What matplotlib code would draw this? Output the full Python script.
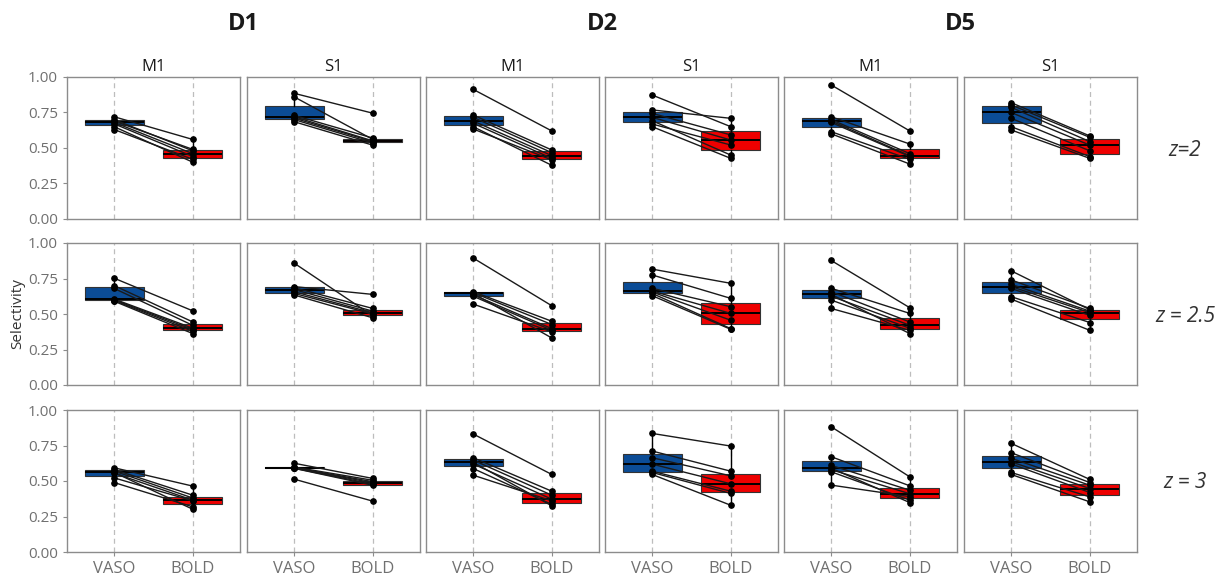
"""Paired VASO/BOLD selectivity boxplots per day, region and z threshold."""

import matplotlib
matplotlib.use("Agg")
import matplotlib.pyplot as plt

plt.rcParams["font.family"] = ["Open Sans", "DejaVu Sans"]

days = ["D1", "D2", "D5"]
regions = ["M1", "S1"]
z_labels = ["z=2", "z = 2.5", "z = 3"]
conditions = ["VASO", "BOLD"]
y_ticks = [0.0, 0.25, 0.5, 0.75, 1.0]

# z = 2
d1_m1_z2_vaso = [0.72, 0.70, 0.69, 0.68, 0.67, 0.65, 0.63]
d1_m1_z2_bold = [0.56, 0.48, 0.49, 0.46, 0.44, 0.40, 0.42]
d1_s1_z2_vaso = [0.885, 0.86, 0.73, 0.72, 0.71, 0.70, 0.685]
d1_s1_z2_bold = [0.745, 0.56, 0.57, 0.55, 0.545, 0.535, 0.52]
d2_m1_z2_vaso = [0.913, 0.732, 0.716, 0.69, 0.674, 0.65, 0.634]
d2_m1_z2_bold = [0.62, 0.486, 0.467, 0.446, 0.427, 0.378, 0.416]
d2_s1_z2_vaso = [0.873, 0.768, 0.744, 0.716, 0.692, 0.669, 0.65]
d2_s1_z2_bold = [0.65, 0.709, 0.592, 0.556, 0.45, 0.521, 0.427]
d5_m1_z2_vaso = [0.944, 0.72, 0.70, 0.69, 0.68, 0.615, 0.60]
d5_m1_z2_bold = [0.62, 0.528, 0.46, 0.445, 0.44, 0.42, 0.387]
d5_s1_z2_vaso = [0.819, 0.803, 0.786, 0.75, 0.709, 0.65, 0.627]
d5_s1_z2_bold = [0.585, 0.575, 0.545, 0.52, 0.48, 0.439, 0.427]

# z = 2.5
d1_m1_z25_vaso = [0.752, 0.70, 0.68, 0.605, 0.60, 0.595, 0.59]
d1_m1_z25_bold = [0.522, 0.444, 0.42, 0.40, 0.39, 0.378, 0.362]
d1_s1_z25_vaso = [0.858, 0.693, 0.685, 0.672, 0.657, 0.645, 0.634]
d1_s1_z25_bold = [0.487, 0.638, 0.539, 0.52, 0.508, 0.50, 0.473]
d2_m1_z25_vaso = [0.894, 0.657, 0.65, 0.645, 0.635, 0.625, 0.57]
d2_m1_z25_bold = [0.558, 0.449, 0.426, 0.331, 0.397, 0.385, 0.374]
d2_s1_z25_vaso = [0.816, 0.775, 0.681, 0.662, 0.655, 0.645, 0.629]
d2_s1_z25_bold = [0.716, 0.61, 0.551, 0.504, 0.456, 0.397, 0.392]
d5_m1_z25_vaso = [0.877, 0.681, 0.657, 0.638, 0.625, 0.598, 0.539]
d5_m1_z25_bold = [0.544, 0.504, 0.444, 0.362, 0.421, 0.40, 0.385]
d5_s1_z25_vaso = [0.804, 0.74, 0.709, 0.693, 0.68, 0.622, 0.605]
d5_s1_z25_bold = [0.53, 0.539, 0.52, 0.51, 0.49, 0.44, 0.385]

# z = 3
d1_m1_z3_vaso = [0.593, 0.58, 0.57, 0.56, 0.555, 0.522, 0.489]
d1_m1_z3_bold = [0.464, 0.40, 0.38, 0.301, 0.365, 0.36, 0.318]
d1_s1_z3_vaso = [0.625, 0.598, 0.594, 0.592, 0.59, 0.589, 0.513]
d1_s1_z3_bold = [0.518, 0.505, 0.495, 0.487, 0.478, 0.47, 0.358]
d2_m1_z3_vaso = [0.831, 0.664, 0.647, 0.631, 0.62, 0.588, 0.541]
d2_m1_z3_bold = [0.546, 0.428, 0.40, 0.325, 0.372, 0.335, 0.36]
d2_s1_z3_vaso = [0.835, 0.711, 0.664, 0.619, 0.569, 0.56, 0.546]
d2_s1_z3_bold = [0.746, 0.569, 0.536, 0.48, 0.428, 0.412, 0.329]
d5_m1_z3_vaso = [0.882, 0.671, 0.61, 0.59, 0.58, 0.565, 0.471]
d5_m1_z3_bold = [0.529, 0.466, 0.435, 0.348, 0.41, 0.365, 0.39]
d5_s1_z3_vaso = [0.765, 0.699, 0.66, 0.635, 0.62, 0.56, 0.546]
d5_s1_z3_bold = [0.511, 0.489, 0.47, 0.447, 0.419, 0.388, 0.353]

panels = [
    [
        (d1_m1_z2_vaso, d1_m1_z2_bold), (d1_s1_z2_vaso, d1_s1_z2_bold),
        (d2_m1_z2_vaso, d2_m1_z2_bold), (d2_s1_z2_vaso, d2_s1_z2_bold),
        (d5_m1_z2_vaso, d5_m1_z2_bold), (d5_s1_z2_vaso, d5_s1_z2_bold),
    ],
    [
        (d1_m1_z25_vaso, d1_m1_z25_bold), (d1_s1_z25_vaso, d1_s1_z25_bold),
        (d2_m1_z25_vaso, d2_m1_z25_bold), (d2_s1_z25_vaso, d2_s1_z25_bold),
        (d5_m1_z25_vaso, d5_m1_z25_bold), (d5_s1_z25_vaso, d5_s1_z25_bold),
    ],
    [
        (d1_m1_z3_vaso, d1_m1_z3_bold), (d1_s1_z3_vaso, d1_s1_z3_bold),
        (d2_m1_z3_vaso, d2_m1_z3_bold), (d2_s1_z3_vaso, d2_s1_z3_bold),
        (d5_m1_z3_vaso, d5_m1_z3_bold), (d5_s1_z3_vaso, d5_s1_z3_bold),
    ],
]

box_colors = ["#0B4C96", "#EE0000"]
grid_color = "#BDBDBD"
frame_color = "#8C8C8C"
tick_color = "#707070"

W, H = 1231, 576
fig = plt.figure(figsize=(W / 100, H / 100), dpi=100)

col_left = [67, 247, 426, 605, 784, 964]
row_top = [77, 243, 410]
pw, ph = 173, 142

for r in range(3):
    for c in range(6):
        ax = fig.add_axes([col_left[c] / W, 1 - (row_top[r] + ph) / H, pw / W, ph / H])
        vaso, bold = panels[r][c]

        for x in (1, 2):
            ax.axvline(x, color=grid_color, linestyle=(0, (4, 3)), linewidth=0.9, zorder=0)

        bp = ax.boxplot(
            [vaso, bold],
            positions=[1, 2],
            widths=0.75,
            patch_artist=True,
            showfliers=False,
            showcaps=False,
            medianprops=dict(color="black", linewidth=1.4),
            whiskerprops=dict(color="black", linewidth=1.0),
            boxprops=dict(edgecolor="#333333", linewidth=0.8),
            zorder=2,
        )
        for patch, colour in zip(bp["boxes"], box_colors):
            patch.set_facecolor(colour)

        for v, b in zip(vaso, bold):
            ax.plot([1, 2], [v, b], color="#1A1A1A", linewidth=1.0, zorder=3)
        ax.plot([1] * len(vaso), vaso, "o", color="black", markersize=3.8, zorder=4)
        ax.plot([2] * len(bold), bold, "o", color="black", markersize=3.8, zorder=4)

        ax.set_xlim(0.4, 2.6)
        ax.set_ylim(0, 1)
        ax.set_yticks(y_ticks)
        ax.set_xticks([1, 2])
        for spine in ax.spines.values():
            spine.set_color(frame_color)
            spine.set_linewidth(1.0)
        ax.tick_params(colors=frame_color, length=3, width=0.8, labelcolor=tick_color, labelsize=11)

        if c == 0:
            ax.set_yticklabels([f"{t:.2f}" for t in y_ticks])
        else:
            ax.tick_params(axis="y", left=False, labelleft=False)
        if r == 2:
            ax.set_xticklabels(conditions, fontsize=12)
        else:
            ax.tick_params(axis="x", bottom=False, labelbottom=False)

        if r == 0:
            ax.set_title(regions[c % 2], fontsize=12, color="#1A1A1A", pad=4)

# day headers above each M1/S1 pair
for i, day in enumerate(days):
    xc = (col_left[2 * i] + col_left[2 * i + 1] + pw) / 2
    fig.text(xc / W, 1 - 24 / H, day, ha="center", va="center",
             fontsize=17, fontweight="bold", color="#1A1A1A")

# z threshold labels on the right
for r, label in enumerate(z_labels):
    yc = row_top[r] + ph / 2
    fig.text(1185 / W, 1 - (yc + 2) / H, label, ha="center", va="center",
             fontsize=15, style="italic", color="#333333")

fig.text(18 / W, 1 - 314 / H, "Selectivity", rotation=90, ha="center", va="center",
         fontsize=11, color="#333333")

fig.savefig("out.png", dpi=100)
